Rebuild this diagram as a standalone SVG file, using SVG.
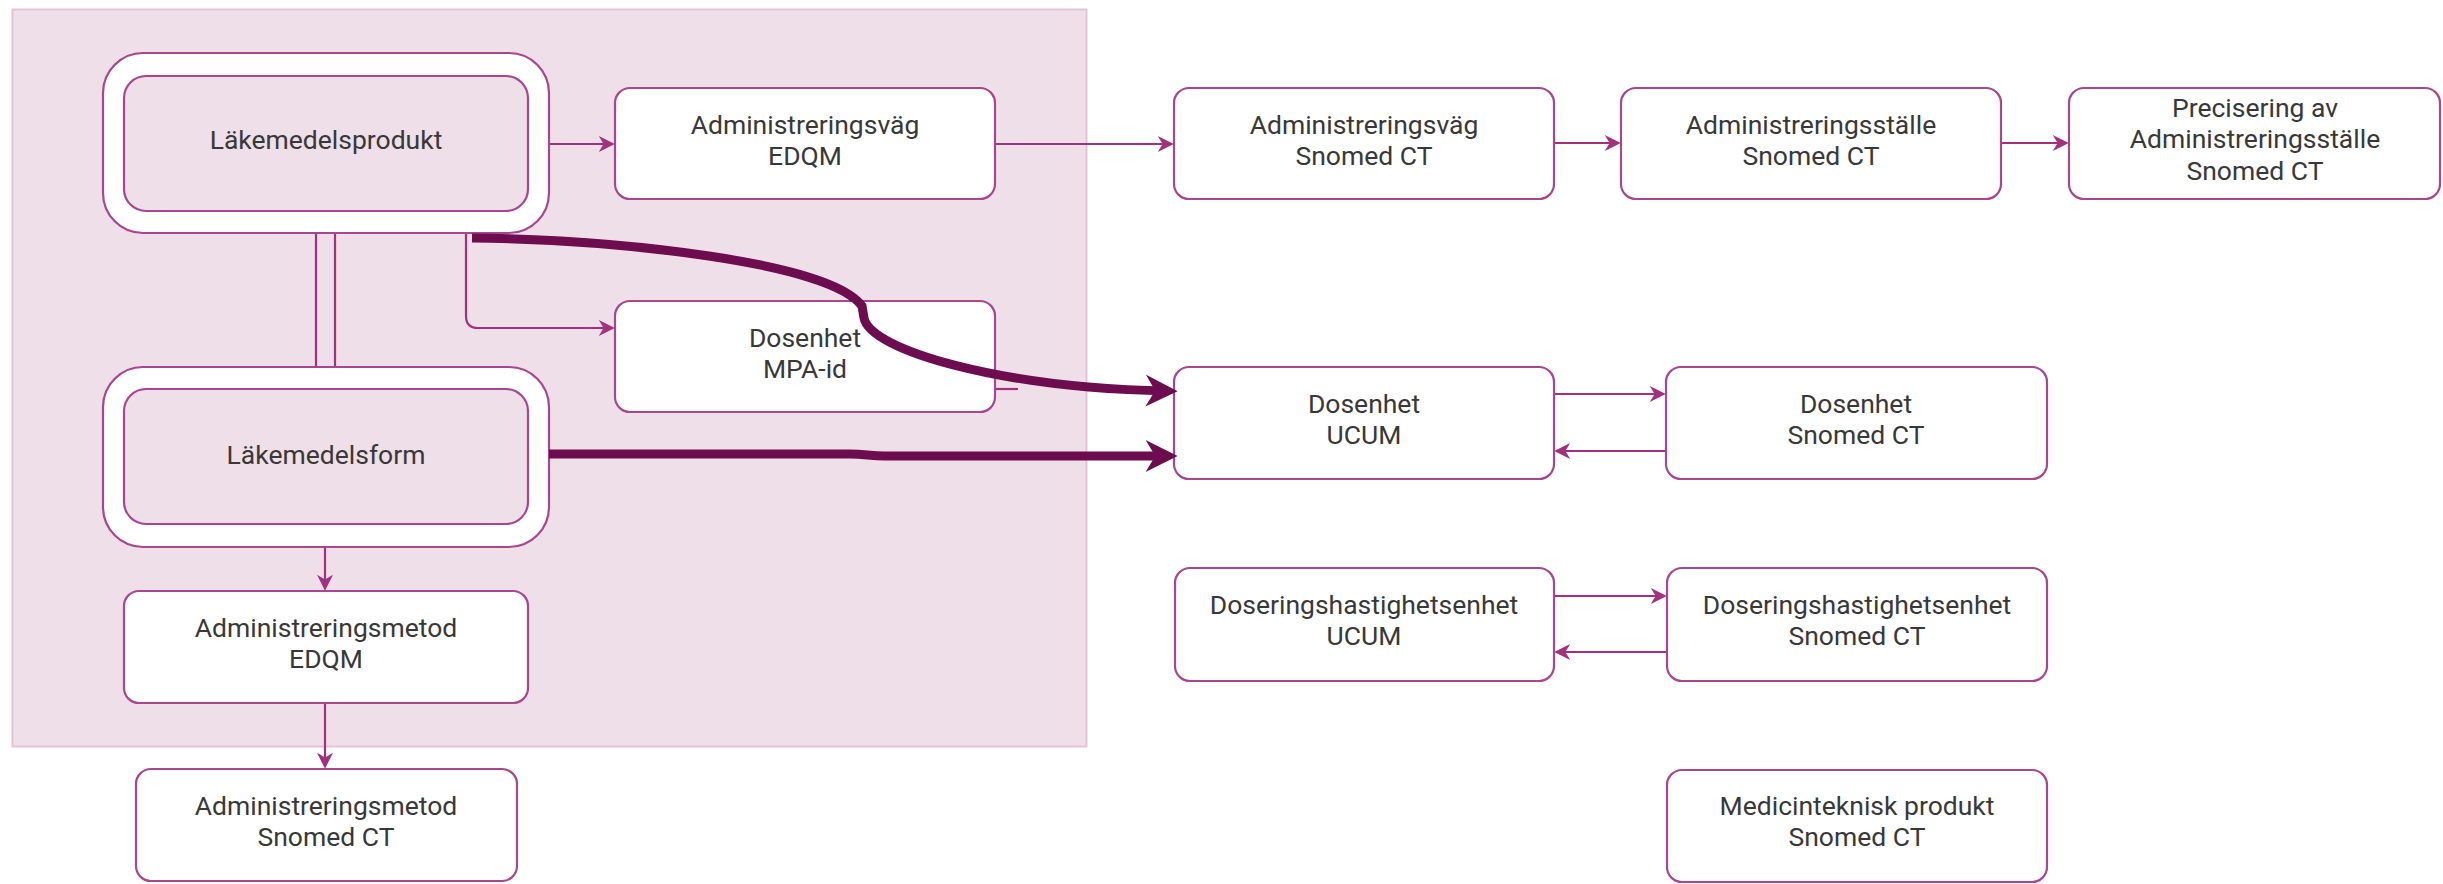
<svg xmlns="http://www.w3.org/2000/svg" width="2443" height="884" viewBox="0 0 2443 884">
<style>
.box{fill:#ffffff;stroke:#a8468f;stroke-width:2.2}
.inner{fill:#efdfe9;stroke:#a8468f;stroke-width:2.2}
.lbl{font-family:Roboto,"Liberation Sans",sans-serif;font-size:26.5px;fill:#383838;text-anchor:middle}
.thin{fill:none;stroke:#a3307f;stroke-width:2.2}
.thick{fill:none;stroke:#6d0c4e;stroke-width:9}
</style>
<defs>
<marker id="a" viewBox="0 0 10 10" refX="7" refY="5" markerWidth="18" markerHeight="16" markerUnits="userSpaceOnUse" orient="auto">
<path d="M0,0 L10,5 L0,10 L3,5 z" fill="#a3307f"/>
</marker>
<marker id="b" viewBox="0 0 10 10" refX="7" refY="5" markerWidth="34" markerHeight="32" markerUnits="userSpaceOnUse" orient="auto">
<path d="M0,0 L10,5 L0,10 L3,5 z" fill="#6d0c4e"/>
</marker>
</defs>
<rect x="0" y="0" width="2443" height="884" fill="#ffffff"/>
<rect id="panel" x="12.5" y="9.5" width="1074" height="737" fill="#efdfe9" stroke="#e2c3d8" stroke-width="2"/>

<g id="connectors">
<line class="thin" x1="316" y1="233" x2="316" y2="367"/>
<line class="thin" x1="335" y1="233" x2="335" y2="367"/>
<path class="thin" d="M549 144 H610" marker-end="url(#a)"/>
<path class="thin" d="M995 144 H1169" marker-end="url(#a)"/>
<path class="thin" d="M1554 143 H1616" marker-end="url(#a)"/>
<path class="thin" d="M2001 143 H2064" marker-end="url(#a)"/>
<path class="thin" d="M466 233 V316 Q466 328 478 328 H610" marker-end="url(#a)"/>
<path class="thin" d="M325 547 V586" marker-end="url(#a)"/>
<path class="thin" d="M325 703 V764" marker-end="url(#a)"/>
<path class="thin" d="M995 389 H1018"/>
<path class="thin" d="M1554 394 H1661" marker-end="url(#a)"/>
<path class="thin" d="M1666 451 H1559" marker-end="url(#a)"/>
<path class="thin" d="M1554 596 H1662" marker-end="url(#a)"/>
<path class="thin" d="M1667 652 H1559" marker-end="url(#a)"/>
</g>

<g id="n-lakemedelsprodukt">
<rect class="box" x="103" y="53" width="446" height="180" rx="40"/>
<rect class="inner" x="124" y="76" width="404" height="135" rx="22"/>
<text class="lbl" x="326" y="149">Läkemedelsprodukt</text>
</g>
<g id="n-lakemedelsform">
<rect class="box" x="103" y="367" width="446" height="180" rx="40"/>
<rect class="inner" x="124" y="389" width="404" height="135" rx="22"/>
<text class="lbl" x="326" y="464">Läkemedelsform</text>
</g>
<g id="n-admvag-edqm">
<rect class="box" x="615" y="88" width="380" height="111" rx="15"/>
<text class="lbl" x="805" y="134">Administreringsväg</text>
<text class="lbl" x="805" y="165">EDQM</text>
</g>
<g id="n-dosenhet-mpa">
<rect class="box" x="615" y="301" width="380" height="111" rx="15"/>
<text class="lbl" x="805" y="347">Dosenhet</text>
<text class="lbl" x="805" y="378">MPA-id</text>
</g>
<g id="n-admmetod-edqm">
<rect class="box" x="124" y="591" width="404" height="112" rx="15"/>
<text class="lbl" x="326" y="637">Administreringsmetod</text>
<text class="lbl" x="326" y="668">EDQM</text>
</g>
<g id="n-admmetod-snomed">
<rect class="box" x="136" y="769" width="381" height="112" rx="15"/>
<text class="lbl" x="326" y="815">Administreringsmetod</text>
<text class="lbl" x="326" y="846">Snomed CT</text>
</g>
<g id="n-admvag-snomed">
<rect class="box" x="1174" y="88" width="380" height="111" rx="15"/>
<text class="lbl" x="1364" y="134">Administreringsväg</text>
<text class="lbl" x="1364" y="165">Snomed CT</text>
</g>
<g id="n-admstalle-snomed">
<rect class="box" x="1621" y="88" width="380" height="111" rx="15"/>
<text class="lbl" x="1811" y="134">Administreringsställe</text>
<text class="lbl" x="1811" y="165">Snomed CT</text>
</g>
<g id="n-precisering">
<rect class="box" x="2069" y="88" width="371" height="111" rx="15"/>
<text class="lbl" x="2255" y="117">Precisering av</text>
<text class="lbl" x="2255" y="148">Administreringsställe</text>
<text class="lbl" x="2255" y="180">Snomed CT</text>
</g>
<g id="n-dosenhet-ucum">
<rect class="box" x="1174" y="367" width="380" height="112" rx="15"/>
<text class="lbl" x="1364" y="413">Dosenhet</text>
<text class="lbl" x="1364" y="444">UCUM</text>
</g>
<g id="n-dosenhet-snomed">
<rect class="box" x="1666" y="367" width="381" height="112" rx="15"/>
<text class="lbl" x="1856" y="413">Dosenhet</text>
<text class="lbl" x="1856" y="444">Snomed CT</text>
</g>
<g id="n-dosh-ucum">
<rect class="box" x="1175" y="568" width="379" height="113" rx="15"/>
<text class="lbl" x="1364" y="614">Doseringshastighetsenhet</text>
<text class="lbl" x="1364" y="645">UCUM</text>
</g>
<g id="n-dosh-snomed">
<rect class="box" x="1667" y="568" width="380" height="113" rx="15"/>
<text class="lbl" x="1857" y="614">Doseringshastighetsenhet</text>
<text class="lbl" x="1857" y="645">Snomed CT</text>
</g>
<g id="n-medtek">
<rect class="box" x="1667" y="770" width="380" height="112" rx="15"/>
<text class="lbl" x="1857" y="815">Medicinteknisk produkt</text>
<text class="lbl" x="1857" y="846">Snomed CT</text>
</g>

<g id="thick-connectors">
<path class="thick" d="M472 238 C620 240 830 262 862 306 L864 318 C870 350 1000 388 1168 391" marker-end="url(#b)"/>
<path class="thick" d="M549 454 H850 C865 454 870 456 885 456 H1168" marker-end="url(#b)"/>
</g>
</svg>
